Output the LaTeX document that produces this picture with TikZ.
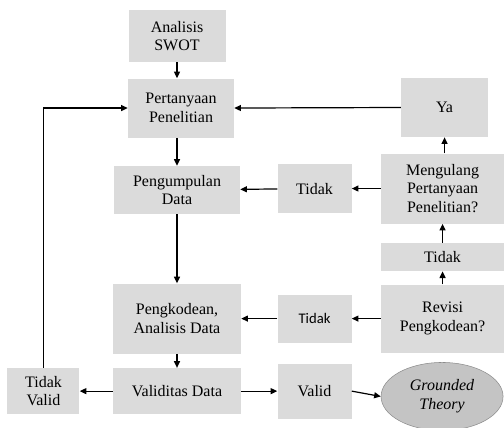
\documentclass[tikz,border=0pt]{standalone}
\usepackage{fontspec}
\setmainfont{Liberation Serif}
\newfontfamily\calibri{Carlito}
\usetikzlibrary{positioning, arrows.meta, shapes.geometric}
\definecolor{boxgray}{RGB}{219,219,219}
\definecolor{ellgray}{RGB}{196,196,196}
\definecolor{ellline}{RGB}{140,140,140}
\begin{document}
\begin{tikzpicture}[x=0.75pt, y=-0.75pt,
    box/.style={rectangle, fill=boxgray, inner sep=1pt, align=center, font=\fontsize{12}{14}\selectfont},
    arr/.style={-{Triangle[length=5pt,width=4.5pt]}, line width=0.9pt}]
\useasboundingbox (0,0) rectangle (504,428);
%main column
\node [box, minimum width=72.75pt, minimum height=39pt] (swot) at (177,36) {Analisis\\SWOT};
\node [box, minimum width=79.5pt, minimum height=44.25pt, below=12pt of swot, xshift=3pt] (pert) {Pertanyaan\\Penelitian};
\node [box, minimum width=94.5pt, minimum height=36pt, below=21pt of pert, xshift=-3pt] (kumpul) {Pengumpulan\\Data};
\node [box, minimum width=96pt, minimum height=52.5pt, below=51.75pt of kumpul] (kode) {Pengkodean,\\Analisis Data};
\node [box, minimum width=96pt, minimum height=34.5pt, below=10.5pt of kode] (vdata) {Validitas Data};
\node [box, minimum width=54pt, minimum height=34.5pt, left=24.75pt of vdata] (tvalid) {Tidak\\Valid};
\node [box, minimum width=55.5pt, minimum height=41.25pt, right=27pt of vdata] (valid) {Valid};
\node [ellipse, draw=ellline, line width=0.4pt, fill=ellgray, inner sep=0pt, align=center,
       font=\fontsize{12}{14}\selectfont\itshape, minimum width=91.5pt, minimum height=51pt,
       right=21.75pt of valid, yshift=-4pt] (gt) {Grounded\\Theory};
%right column
\node [box, minimum width=55.5pt, minimum height=36pt, right=27pt of kode, font=\calibri\fontsize{11}{13}\selectfont] (tidaks) {Tidak};
\node [box, minimum width=92.25pt, minimum height=51pt, right=21.75pt of tidaks] (revisi) {Revisi\\Pengkodean?};
\node [box, minimum width=92.25pt, minimum height=21pt, above=9.75pt of revisi] (tidak2) {Tidak};
\node [box, minimum width=92.25pt, minimum height=52.5pt, above=14.25pt of tidak2] (meng) {Mengulang\\Pertanyaan\\Penelitian?};
\node [box, minimum width=65.25pt, minimum height=44.25pt, above=12pt of meng, xshift=1.5pt] (ya) {Ya};
\node [box, minimum width=55.5pt, minimum height=37pt, left=21.75pt of meng] (tidak1) {Tidak};
%connectors
\draw [arr] (swot.south) -- (swot.south |- pert.north);
\draw [arr] (kumpul.north |- pert.south) -- (kumpul.north);
\draw [arr] (kumpul) -- (kode);
\draw [arr] (kode) -- (vdata);
\draw [arr] (vdata) -- (tvalid);
\draw [arr] (vdata) -- (valid);
\draw [arr] (valid.east) -- (gt.west);
\draw [arr] (tvalid.north) |- (pert.west);
\draw [arr] (ya.west) -- (pert.east);
\draw [arr] (ya.south |- meng.north) -- (ya.south);
\draw [arr] (meng) -- (tidak1);
\draw [arr] (tidak1) -- (kumpul);
\draw [arr] (tidak2) -- (meng);
\draw [arr] (revisi) -- (tidak2);
\draw [arr] (revisi) -- (tidaks);
\draw [arr] (tidaks) -- (kode);
\end{tikzpicture}
\end{document}
